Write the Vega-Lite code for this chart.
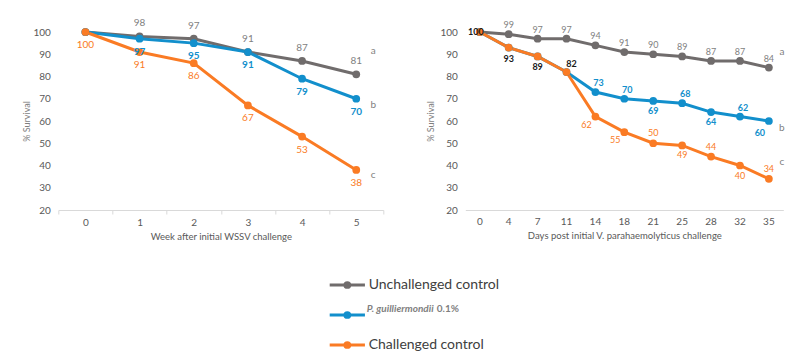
{
  "$schema": "https://vega.github.io/schema/vega-lite/v6.json",
  "padding": {"left": 22, "top": 18, "right": 5, "bottom": 0},
  "config": {"view": {"stroke": null}, "font": "Lato", "axis": {"grid": false}},
  "datasets": {
    "wssv": [
      {"week": 0, "series": "Unchallenged control", "survival": 100},
      {"week": 1, "series": "Unchallenged control", "survival": 98},
      {"week": 2, "series": "Unchallenged control", "survival": 97},
      {"week": 3, "series": "Unchallenged control", "survival": 91},
      {"week": 4, "series": "Unchallenged control", "survival": 87},
      {"week": 5, "series": "Unchallenged control", "survival": 81},
      {"week": 0, "series": "P. guilliermondii 0.1%", "survival": 100},
      {"week": 1, "series": "P. guilliermondii 0.1%", "survival": 97},
      {"week": 2, "series": "P. guilliermondii 0.1%", "survival": 95},
      {"week": 3, "series": "P. guilliermondii 0.1%", "survival": 91},
      {"week": 4, "series": "P. guilliermondii 0.1%", "survival": 79},
      {"week": 5, "series": "P. guilliermondii 0.1%", "survival": 70},
      {"week": 0, "series": "Challenged control", "survival": 100},
      {"week": 1, "series": "Challenged control", "survival": 91},
      {"week": 2, "series": "Challenged control", "survival": 86},
      {"week": 3, "series": "Challenged control", "survival": 67},
      {"week": 4, "series": "Challenged control", "survival": 53},
      {"week": 5, "series": "Challenged control", "survival": 38}
    ],
    "vibrio": [
      {"day": 0, "series": "Unchallenged control", "survival": 100},
      {"day": 4, "series": "Unchallenged control", "survival": 99},
      {"day": 7, "series": "Unchallenged control", "survival": 97},
      {"day": 11, "series": "Unchallenged control", "survival": 97},
      {"day": 14, "series": "Unchallenged control", "survival": 94},
      {"day": 18, "series": "Unchallenged control", "survival": 91},
      {"day": 21, "series": "Unchallenged control", "survival": 90},
      {"day": 25, "series": "Unchallenged control", "survival": 89},
      {"day": 28, "series": "Unchallenged control", "survival": 87},
      {"day": 32, "series": "Unchallenged control", "survival": 87},
      {"day": 35, "series": "Unchallenged control", "survival": 84},
      {"day": 0, "series": "P. guilliermondii 0.1%", "survival": 100},
      {"day": 4, "series": "P. guilliermondii 0.1%", "survival": 93},
      {"day": 7, "series": "P. guilliermondii 0.1%", "survival": 89},
      {"day": 11, "series": "P. guilliermondii 0.1%", "survival": 82},
      {"day": 14, "series": "P. guilliermondii 0.1%", "survival": 73},
      {"day": 18, "series": "P. guilliermondii 0.1%", "survival": 70},
      {"day": 21, "series": "P. guilliermondii 0.1%", "survival": 69},
      {"day": 25, "series": "P. guilliermondii 0.1%", "survival": 68},
      {"day": 28, "series": "P. guilliermondii 0.1%", "survival": 64},
      {"day": 32, "series": "P. guilliermondii 0.1%", "survival": 62},
      {"day": 35, "series": "P. guilliermondii 0.1%", "survival": 60},
      {"day": 0, "series": "Challenged control", "survival": 100},
      {"day": 4, "series": "Challenged control", "survival": 93},
      {"day": 7, "series": "Challenged control", "survival": 89},
      {"day": 11, "series": "Challenged control", "survival": 82},
      {"day": 14, "series": "Challenged control", "survival": 62},
      {"day": 18, "series": "Challenged control", "survival": 55},
      {"day": 21, "series": "Challenged control", "survival": 50},
      {"day": 25, "series": "Challenged control", "survival": 49},
      {"day": 28, "series": "Challenged control", "survival": 44},
      {"day": 32, "series": "Challenged control", "survival": 40},
      {"day": 35, "series": "Challenged control", "survival": 34}
    ],
    "letters_wssv": [
      {"week": 5, "survival": 91.4, "letter": "a"},
      {"week": 5, "survival": 67, "letter": "b"},
      {"week": 5, "survival": 35.7, "letter": "c"}
    ],
    "letters_vibrio": [
      {"day": 35, "survival": 91, "letter": "a"},
      {"day": 35, "survival": 57, "letter": "b"},
      {"day": 35, "survival": 41.5, "letter": "c"}
    ],
    "legend": [
      {"series": "Unchallenged control", "label": "Unchallenged control", "suffix": ""},
      {"series": "P. guilliermondii 0.1%", "label": "P. guilliermondii", "suffix": "0.1%"},
      {"series": "Challenged control", "label": "Challenged control", "suffix": ""}
    ]
  },
  "vconcat": [
    {
      "hconcat": [
        {
          "width": 325,
          "height": 178,
          "data": {"name": "wssv"},
          "encoding": {
            "x": {
              "field": "week", "type": "ordinal",
              "scale": {"type": "band", "paddingInner": 0, "paddingOuter": 0},
              "axis": {
                "title": "Week after initial WSSV challenge", "labelAngle": 0,
                "tickBand": "extent", "ticks": true, "tickSize": 4, "tickColor": "#d9d9d9",
                "domainColor": "#d9d9d9", "labelColor": "#595959", "labelFontSize": 10,
                "labelPadding": 3, "titleFontSize": 9.5, "titleFontWeight": "normal",
                "titleColor": "#595959", "titlePadding": 4
              }
            },
            "y": {
              "field": "survival", "type": "quantitative",
              "scale": {"domain": [20, 100]},
              "axis": {
                "title": "% Survival", "values": [20, 30, 40, 50, 60, 70, 80, 90, 100],
                "domain": false, "ticks": false, "labelPadding": 8, "labelColor": "#595959",
                "labelFontSize": 10, "titleFontSize": 9, "titleFontWeight": "normal",
                "titleColor": "#7f7f7f", "titlePadding": 1
              }
            }
          },
          "layer": [
            {
              "mark": {"type": "line", "strokeWidth": 3, "point": {"filled": true, "size": 60, "opacity": 1}},
              "encoding": {
                "color": {
                  "field": "series", "type": "nominal",
                  "scale": {"domain": ["Unchallenged control", "P. guilliermondii 0.1%", "Challenged control"], "range": ["#706c6c", "#128fcc", "#fa7b24"]},
                  "legend": null
                }
              }
            },
            {
              "transform": [{"filter": "datum.series == 'Unchallenged control' && datum.week > 0"}],
              "mark": {"type": "text", "baseline": "middle", "dy": -13, "fontSize": 10, "color": "#7f7f7f"},
              "encoding": {"text": {"field": "survival"}}
            },
            {
              "transform": [{"filter": "datum.series == 'P. guilliermondii 0.1%' && datum.week > 0"}],
              "mark": {"type": "text", "baseline": "middle", "dy": 13, "fontSize": 10, "fontWeight": "bold", "color": "#128fcc"},
              "encoding": {"text": {"field": "survival"}}
            },
            {
              "transform": [{"filter": "datum.series == 'Challenged control'"}],
              "mark": {"type": "text", "baseline": "middle", "dy": 13, "fontSize": 10, "color": "#fa7b24"},
              "encoding": {"text": {"field": "survival"}}
            },
            {
              "data": {"name": "letters_wssv"},
              "mark": {"type": "text", "baseline": "middle", "dx": 17, "fontSize": 10, "color": "#7f7f7f"},
              "encoding": {"text": {"field": "letter"}}
            }
          ]
        },
        {
          "width": 318,
          "height": 178,
          "data": {"name": "vibrio"},
          "encoding": {
            "x": {
              "field": "day", "type": "ordinal",
              "scale": {"type": "band", "paddingInner": 0, "paddingOuter": 0},
              "axis": {
                "title": "Days post initial V. parahaemolyticus challenge", "labelAngle": 0,
                "ticks": false, "domainColor": "#d9d9d9", "labelColor": "#595959", "labelFontSize": 10,
                "labelPadding": 6, "titleFontSize": 9.5, "titleFontWeight": "normal",
                "titleColor": "#595959", "titlePadding": 4
              }
            },
            "y": {
              "field": "survival", "type": "quantitative",
              "scale": {"domain": [20, 100]},
              "axis": {
                "title": "% Survival", "values": [20, 30, 40, 50, 60, 70, 80, 90, 100],
                "domain": false, "ticks": false, "labelPadding": 8, "labelColor": "#595959",
                "labelFontSize": 10, "titleFontSize": 9, "titleFontWeight": "normal",
                "titleColor": "#7f7f7f", "titlePadding": 4
              }
            }
          },
          "layer": [
            {
              "mark": {"type": "line", "strokeWidth": 3, "point": {"filled": true, "size": 60, "opacity": 1}},
              "encoding": {
                "color": {
                  "field": "series", "type": "nominal",
                  "scale": {"domain": ["Unchallenged control", "P. guilliermondii 0.1%", "Challenged control"], "range": ["#706c6c", "#128fcc", "#fa7b24"]},
                  "legend": null
                }
              }
            },
            {
              "transform": [{"filter": "datum.series == 'Unchallenged control' && datum.day > 0"}],
              "mark": {"type": "text", "baseline": "middle", "dy": -9, "fontSize": 9, "color": "#7f7f7f"},
              "encoding": {"text": {"field": "survival"}}
            },
            {
              "transform": [{"filter": "datum.series == 'Challenged control' && datum.day == 0"}],
              "mark": {"type": "text", "baseline": "middle", "dx": -4, "fontSize": 9, "fontWeight": "bold", "color": "#1a1a1a"},
              "encoding": {"text": {"field": "survival"}}
            },
            {
              "transform": [{"filter": "datum.series == 'Challenged control' && (datum.day == 4 || datum.day == 7)"}],
              "mark": {"type": "text", "baseline": "middle", "dy": 11, "fontSize": 9, "fontWeight": "bold", "color": "#1a1a1a"},
              "encoding": {"text": {"field": "survival"}}
            },
            {
              "transform": [{"filter": "datum.series == 'Challenged control' && datum.day == 11"}],
              "mark": {"type": "text", "baseline": "middle", "dx": 5, "dy": -8, "fontSize": 9, "fontWeight": "bold", "color": "#1a1a1a"},
              "encoding": {"text": {"field": "survival"}}
            },
            {
              "transform": [{"filter": "datum.series == 'P. guilliermondii 0.1%' && indexof([14, 18, 25, 32], datum.day) >= 0"}],
              "mark": {"type": "text", "baseline": "middle", "dx": 3, "dy": -9, "fontSize": 9, "fontWeight": "bold", "color": "#128fcc"},
              "encoding": {"text": {"field": "survival"}}
            },
            {
              "transform": [{"filter": "datum.series == 'P. guilliermondii 0.1%' && indexof([21, 28], datum.day) >= 0"}],
              "mark": {"type": "text", "baseline": "middle", "dy": 10, "fontSize": 9, "fontWeight": "bold", "color": "#128fcc"},
              "encoding": {"text": {"field": "survival"}}
            },
            {
              "transform": [{"filter": "datum.series == 'P. guilliermondii 0.1%' && datum.day == 35"}],
              "mark": {"type": "text", "baseline": "middle", "dx": -9, "dy": 12, "fontSize": 9, "fontWeight": "bold", "color": "#128fcc"},
              "encoding": {"text": {"field": "survival"}}
            },
            {
              "transform": [{"filter": "datum.series == 'Challenged control' && indexof([14, 18], datum.day) >= 0"}],
              "mark": {"type": "text", "baseline": "middle", "dx": -9, "dy": 8, "fontSize": 9, "color": "#fa7b24"},
              "encoding": {"text": {"field": "survival"}}
            },
            {
              "transform": [{"filter": "datum.series == 'Challenged control' && indexof([21, 28, 35], datum.day) >= 0"}],
              "mark": {"type": "text", "baseline": "middle", "dy": -10, "fontSize": 9, "color": "#fa7b24"},
              "encoding": {"text": {"field": "survival"}}
            },
            {
              "transform": [{"filter": "datum.series == 'Challenged control' && indexof([25, 32], datum.day) >= 0"}],
              "mark": {"type": "text", "baseline": "middle", "dy": 10, "fontSize": 9, "color": "#fa7b24"},
              "encoding": {"text": {"field": "survival"}}
            },
            {
              "data": {"name": "letters_vibrio"},
              "mark": {"type": "text", "baseline": "middle", "dx": 13, "fontSize": 10, "color": "#7f7f7f"},
              "encoding": {"text": {"field": "letter"}}
            }
          ]
        }
      ],
      "spacing": 82,
      "bounds": "flush",
      "resolve": {"scale": {"x": "independent", "y": "independent"}}
    },
    {
      "width": 204,
      "height": 60,
      "data": {"name": "legend"},
      "encoding": {
        "y": {
          "field": "series", "type": "nominal",
          "sort": ["Unchallenged control", "P. guilliermondii 0.1%", "Challenged control"],
          "scale": {"type": "point", "padding": 0},
          "axis": null
        }
      },
      "layer": [
        {
          "mark": {"type": "rule", "strokeWidth": 3},
          "encoding": {
            "x": {"datum": 11, "type": "quantitative", "scale": {"domain": [0, 204]}, "axis": null},
            "x2": {"datum": 49},
            "color": {
              "field": "series", "type": "nominal",
              "scale": {"domain": ["Unchallenged control", "P. guilliermondii 0.1%", "Challenged control"], "range": ["#706c6c", "#128fcc", "#fa7b24"]},
              "legend": null
            }
          }
        },
        {
          "mark": {"type": "point", "filled": true, "size": 60, "opacity": 1},
          "encoding": {
            "x": {"datum": 30, "type": "quantitative"},
            "color": {"field": "series", "type": "nominal", "legend": null}
          }
        },
        {
          "transform": [{"filter": "datum.suffix == ''"}],
          "mark": {"type": "text", "align": "left", "baseline": "middle", "fontSize": 14, "color": "#404040"},
          "encoding": {"x": {"datum": 53, "type": "quantitative"}, "text": {"field": "label"}}
        },
        {
          "transform": [{"filter": "datum.suffix != ''"}],
          "mark": {"type": "text", "align": "left", "baseline": "middle", "dy": -6, "fontSize": 10, "fontStyle": "italic", "fontWeight": "bold", "color": "#7f7f7f"},
          "encoding": {"x": {"datum": 51, "type": "quantitative"}, "text": {"field": "label"}}
        },
        {
          "transform": [{"filter": "datum.suffix != ''"}],
          "mark": {"type": "text", "align": "left", "baseline": "middle", "dx": 70, "dy": -6, "fontSize": 10, "fontWeight": "bold", "color": "#7f7f7f"},
          "encoding": {"x": {"datum": 51, "type": "quantitative"}, "text": {"field": "suffix"}}
        }
      ]
    }
  ],
  "spacing": 37,
  "center": true,
  "resolve": {"scale": {"x": "independent", "y": "independent", "color": "independent"}}
}
